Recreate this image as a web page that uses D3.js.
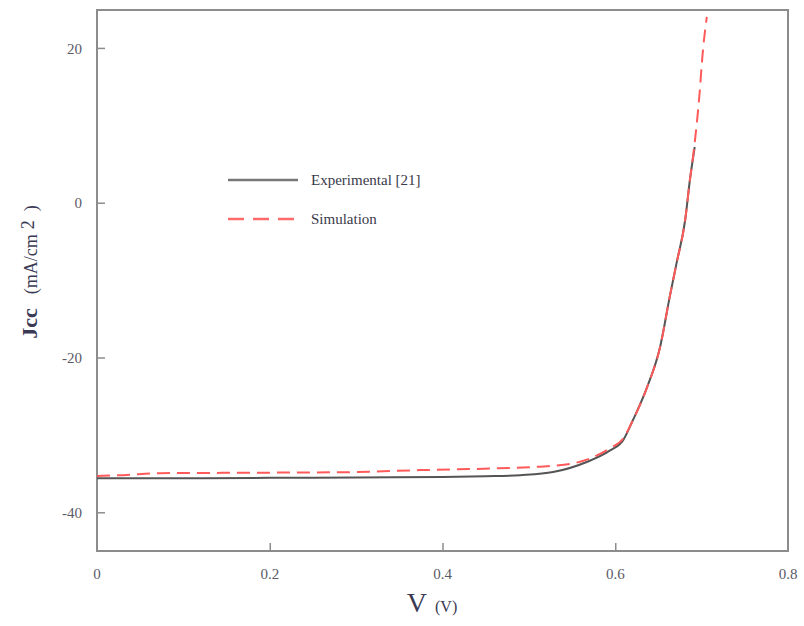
<!DOCTYPE html>
<html>
<head>
<meta charset="utf-8">
<script src="https://cdn.jsdelivr.net/npm/d3@7"></script>
<style>
  html, body { margin: 0; padding: 0; background: #fff; }
  svg { display: block; }
  text { font-family: "Liberation Serif", "Times New Roman", serif; }
</style>
</head>
<body>
<svg id="chart" width="804" height="626"></svg>
<script>
// J-V characteristic: measured vs. simulated current density
const expV = [0, 0.05, 0.1, 0.2, 0.3, 0.4, 0.45, 0.49, 0.528, 0.567, 0.594, 0.609, 0.62, 0.637, 0.652, 0.663, 0.671, 0.681, 0.6865, 0.692];
const expJ = [-35.6, -35.6, -35.6, -35.55, -35.5, -35.45, -35.35, -35.2, -34.8, -33.5, -32.0, -30.7, -28.2, -23.8, -18.6, -12.2, -7.8, -2.2, 3.0, 7.2];

const simV = [0, 0.03, 0.073, 0.15, 0.247, 0.3, 0.374, 0.455, 0.513, 0.528, 0.567, 0.594, 0.609, 0.62, 0.637, 0.652, 0.663, 0.671, 0.681, 0.6865, 0.691, 0.697, 0.7016, 0.706];
const simJ = [-35.3, -35.2, -34.95, -34.9, -34.85, -34.8, -34.55, -34.35, -34.1, -34.0, -33.2, -31.7, -30.5, -28.2, -23.8, -18.6, -12.2, -7.8, -2.2, 3.0, 6.8, 13.3, 19.8, 24.0];

const xTicks = [0, 0.2, 0.4, 0.6, 0.8];
const xTickLabels = ["0", "0.2", "0.4", "0.6", "0.8"];
const yTicks = [20, 0, -20, -40];
const yTickLabels = ["20", "0", "-20", "-40"];

const seriesNames = ["Experimental [21]", "Simulation"];

const svg = d3.select("#chart");
const plotL = 97, plotR = 788, plotT = 10, plotB = 551;

const x = d3.scaleLinear().domain([0, 0.8]).range([plotL, plotR]);
const y = d3.scaleLinear().domain([-45, 24.9]).range([plotB, plotT]);

const axisColor = "#8c8c8c";
const labelColor = "#5a5a66";

// frame
svg.append("rect")
  .attr("x", plotL).attr("y", plotT)
  .attr("width", plotR - plotL).attr("height", plotB - plotT)
  .attr("fill", "none").attr("stroke", axisColor).attr("stroke-width", 2);

// bottom axis: ticks point inward
const xAxis = d3.axisBottom(x)
  .tickValues(xTicks.slice(1, -1))
  .tickSizeInner(-8).tickSizeOuter(0);
const gx = svg.append("g").attr("transform", `translate(0,${plotB})`).call(xAxis);
gx.select(".domain").remove();
gx.selectAll(".tick line").attr("stroke", axisColor).attr("stroke-width", 1.5);
gx.selectAll(".tick text").remove();

svg.append("g").selectAll("text").data(xTicks).join("text")
  .attr("x", d => x(d)).attr("y", 579)
  .attr("text-anchor", "middle")
  .attr("font-size", 15).attr("fill", labelColor)
  .text((d, i) => xTickLabels[i]);

// left axis: ticks point inward
const yAxis = d3.axisLeft(y)
  .tickValues(yTicks)
  .tickSizeInner(-8).tickSizeOuter(0)
  .tickFormat(d => yTickLabels[yTicks.indexOf(d)]);
const gy = svg.append("g").attr("transform", `translate(${plotL},0)`).call(yAxis);
gy.select(".domain").remove();
gy.selectAll(".tick line").attr("stroke", axisColor).attr("stroke-width", 1.5);
gy.selectAll(".tick text")
  .attr("x", -15).attr("dy", "0.35em")
  .attr("font-size", 15).attr("fill", labelColor)
  .style("font-family", "Liberation Serif, serif");

// axis titles
const xt = svg.append("text").attr("x", 432).attr("y", 612)
  .attr("text-anchor", "middle").attr("fill", "#3a3a55");
xt.append("tspan").attr("font-size", 28).text("V");
xt.append("tspan").attr("font-size", 16).attr("dx", 8).text("(V)");

const yt = svg.append("text")
  .attr("transform", "translate(37,272) rotate(-90)")
  .attr("text-anchor", "middle").attr("fill", "#3a3a55");
yt.append("tspan").attr("font-size", 22).attr("font-weight", "bold").text("Jcc");
yt.append("tspan").attr("font-size", 18).attr("dx", 14).text("(mA/cm");
yt.append("tspan").attr("font-size", 18).attr("dx", 5).attr("dy", -3).text("2");
yt.append("tspan").attr("font-size", 18).attr("dx", 9).attr("dy", 3).text(")");

// curves
const line = d3.line().x(d => x(d[0])).y(d => y(d[1])).curve(d3.curveMonotoneX);
const expData = expV.map((v, i) => [v, expJ[i]]);
const simData = simV.map((v, i) => [v, simJ[i]]);

svg.append("path").datum(expData)
  .attr("d", line).attr("fill", "none")
  .attr("stroke", "#555").attr("stroke-width", 2);

svg.append("path").datum(simData)
  .attr("d", line).attr("fill", "none")
  .attr("stroke", "#ff5a5a").attr("stroke-width", 2)
  .attr("stroke-dasharray", "13,7");

// legend
const legend = svg.append("g");
const legendRows = [
  { name: seriesNames[0], y: 180, stroke: "#777", dash: null },
  { name: seriesNames[1], y: 219, stroke: "#ff6a6a", dash: "16,9" }
];
legendRows.forEach(r => {
  legend.append("line")
    .attr("x1", 228).attr("x2", 298).attr("y1", r.y).attr("y2", r.y)
    .attr("stroke", r.stroke).attr("stroke-width", 2.5)
    .attr("stroke-dasharray", r.dash);
  legend.append("text")
    .attr("x", 311).attr("y", r.y + 5)
    .attr("font-size", 15).attr("fill", "#3a3a4a")
    .text(r.name);
});
</script>
</body>
</html>
